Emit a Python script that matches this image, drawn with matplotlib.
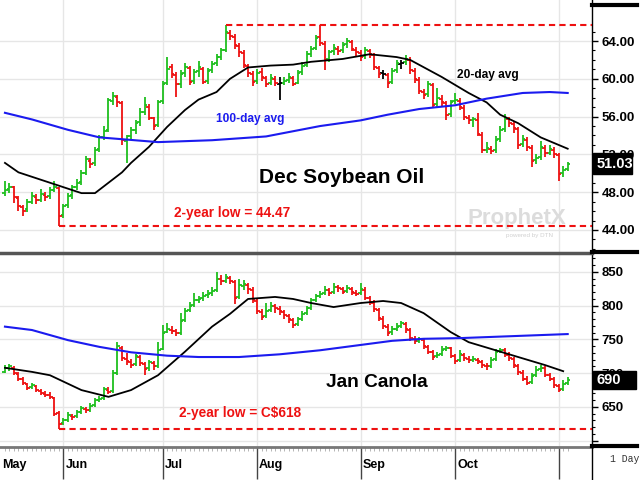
import numpy as np
import matplotlib
matplotlib.use("Agg")
import matplotlib.pyplot as plt
import matplotlib.transforms as mtransforms
from matplotlib.patches import Rectangle
from matplotlib.lines import Line2D

# Dec soybean oil daily bars (cents/lb), mid-May .. early Nov
soy_open = [47.9, 48.3, 48.5, 47.4, 46.4, 46.2, 47.0, 47.5, 47.2, 47.7,
            47.6, 48.2, 48.4, 45.6, 46.6, 47.7, 48.5, 49.1, 50.0, 51.3,
            51.1, 52.6, 53.8, 54.6, 57.7, 58.1, 57.4, 53.4, 53.9, 54.6,
            55.4, 56.5, 57.0, 55.8, 55.1, 57.6, 59.6, 61.2, 60.4, 59.5,
            60.6, 61.1, 59.8, 60.8, 61.0, 59.8, 60.9, 61.7, 62.3, 63.1,
            64.9, 64.4, 63.5, 62.7, 61.4, 60.5, 59.8, 60.7, 60.1, 59.6,
            60.0, 59.5, 59.6, 59.9, 60.1, 59.6, 60.7, 61.5, 62.6, 63.3,
            64.4, 63.7, 62.1, 62.9, 63.2, 63.0, 63.7, 63.9, 63.1, 62.7,
            62.4, 62.9, 62.5, 61.1, 60.6, 60.4, 59.7, 60.9, 61.6, 61.8,
            62.0, 60.8, 59.9, 58.6, 58.4, 59.3, 57.3, 57.9, 57.4, 56.3,
            57.6, 57.7, 56.9, 55.9, 55.6, 55.6, 54.1, 52.5, 52.6, 52.5,
            53.6, 54.7, 55.7, 55.2, 54.7, 53.1, 53.5, 52.7, 51.4, 51.7,
            52.7, 52.2, 52.5, 51.9, 50.0, 50.5]
soy_high = [49.2, 49.0, 48.7, 47.6, 46.6, 47.3, 48.0, 47.8, 48.3, 48.0,
            48.6, 49.2, 48.6, 46.8, 47.9, 48.8, 49.4, 50.4, 51.8, 51.6,
            52.8, 54.1, 55.0, 58.0, 58.6, 58.3, 57.6, 54.1, 54.9, 55.6,
            56.9, 58.1, 57.3, 56.0, 57.8, 59.8, 62.3, 61.6, 60.7, 60.9,
            61.7, 61.4, 61.0, 61.9, 61.3, 61.1, 61.9, 62.6, 63.3, 65.7,
            65.2, 64.7, 63.8, 63.0, 61.6, 60.8, 61.0, 61.1, 60.3, 60.5,
            60.3, 60.2, 60.2, 60.6, 60.3, 60.9, 61.8, 62.9, 63.5, 64.6,
            65.7, 64.0, 63.1, 63.7, 63.5, 63.9, 64.3, 64.1, 63.4, 63.0,
            63.4, 63.2, 62.7, 61.4, 60.9, 60.6, 61.1, 62.0, 62.0, 62.5,
            62.3, 61.1, 60.2, 58.9, 59.8, 59.6, 59.0, 58.3, 57.7, 57.8,
            58.5, 58.0, 57.2, 56.2, 56.0, 56.4, 54.4, 53.3, 52.9, 53.9,
            55.0, 56.3, 56.0, 55.5, 54.9, 54.0, 53.8, 53.0, 52.0, 53.4,
            53.0, 53.0, 52.8, 52.2, 50.8, 51.2]
soy_low = [47.6, 47.9, 46.9, 46.0, 45.5, 45.9, 46.8, 46.7, 47.0, 47.1,
           47.3, 48.0, 44.47, 45.3, 46.3, 47.3, 48.2, 48.8, 49.8, 50.6,
           50.8, 52.3, 53.5, 54.4, 57.2, 57.0, 53.0, 51.1, 53.5, 54.2,
           55.0, 56.2, 55.6, 54.6, 54.9, 57.3, 59.3, 60.1, 58.1, 59.0,
           60.2, 59.3, 59.5, 60.2, 59.4, 59.5, 60.6, 61.4, 62.0, 62.8,
           64.1, 63.2, 62.3, 61.1, 60.2, 59.2, 59.5, 59.8, 59.1, 59.3,
           59.2, 57.8, 59.3, 59.6, 59.2, 59.4, 60.4, 61.2, 62.3, 63.0,
           63.5, 60.9, 61.8, 62.5, 62.5, 62.7, 63.3, 62.9, 62.4, 61.9,
           62.1, 62.2, 60.9, 60.1, 60.0, 59.0, 59.4, 60.6, 61.0, 61.5,
           60.5, 59.6, 58.4, 57.9, 58.1, 56.9, 57.0, 57.1, 55.6, 56.0,
           57.3, 56.7, 55.6, 55.2, 54.9, 53.9, 52.2, 52.1, 52.0, 52.2,
           53.3, 54.4, 54.9, 54.3, 52.6, 52.8, 52.4, 50.7, 51.0, 51.4,
           51.7, 51.9, 51.6, 49.2, 49.6, 50.2]
soy_close = [48.2, 48.6, 47.5, 46.5, 46.0, 47.0, 47.6, 47.2, 47.8, 47.5,
             48.2, 48.6, 45.5, 46.5, 47.6, 48.5, 49.0, 50.0, 51.5, 51.0,
             52.5, 53.8, 54.5, 57.8, 58.2, 57.5, 53.5, 53.9, 54.6, 55.3,
             56.5, 57.2, 55.9, 55.0, 57.5, 59.5, 61.0, 60.5, 59.4, 60.5,
             61.3, 59.7, 60.7, 61.2, 59.7, 60.8, 61.6, 62.3, 63.0, 65.0,
             64.5, 63.6, 62.8, 61.5, 60.6, 59.7, 60.6, 60.2, 59.5, 60.1,
             59.6, 59.6, 59.8, 60.2, 59.5, 60.6, 61.4, 62.6, 63.2, 64.3,
             63.8, 62.0, 62.8, 63.3, 62.9, 63.6, 64.0, 63.2, 62.8, 62.3,
             63.0, 62.6, 61.2, 60.5, 60.5, 59.6, 60.8, 61.7, 61.7, 62.1,
             60.9, 60.0, 58.7, 58.3, 59.5, 57.2, 58.0, 57.5, 56.2, 57.5,
             57.8, 57.0, 56.0, 55.6, 55.7, 54.2, 52.5, 52.7, 52.4, 53.5,
             54.6, 55.8, 55.3, 54.8, 53.0, 53.6, 52.8, 51.3, 51.6, 52.8,
             52.1, 52.6, 52.0, 49.9, 50.4, 51.03]

# moving averages (day index, value)
soy_ma20_day = [0, 3, 10, 17, 20, 23, 26, 28, 32, 36, 40, 43, 47, 50, 54,
                59, 64, 68, 75, 81, 87, 90, 97, 103, 107, 110, 114, 119, 125]
soy_ma20 = [51.1, 50.1, 49.0, 47.9, 47.9, 49.0, 50.1, 51.1, 52.8, 54.9,
            56.7, 57.8, 58.6, 60.0, 61.2, 61.4, 61.5, 61.8, 62.1, 62.6,
            62.3, 62.0, 60.2, 58.5, 57.5, 56.2, 55.3, 53.8, 52.6]
soy_ma100_day = [0, 6, 14, 21, 34, 46, 58, 70, 79, 85, 92, 100, 107, 115, 121, 125]
soy_ma100 = [56.4, 55.7, 54.6, 53.8, 53.3, 53.5, 53.9, 55.0, 55.6, 56.2,
             56.8, 57.2, 57.9, 58.5, 58.6, 58.5]

# Jan canola daily bars (C$/t)
can_open = [702, 707, 708, 699, 691, 684, 679, 681, 674, 669,
            668, 663, 641, 626, 630, 637, 636, 643, 647, 646,
            653, 661, 663, 675, 673, 701, 738, 721, 717, 713,
            724, 714, 707, 715, 711, 736, 761, 764, 762, 760,
            779, 793, 801, 809, 811, 816, 819, 823, 839, 837,
            841, 835, 813, 829, 831, 824, 807, 791, 785, 793,
            799, 795, 791, 785, 779, 773, 781, 789, 797, 809,
            815, 819, 823, 820, 827, 825, 822, 825, 819, 819,
            824, 811, 804, 794, 781, 769, 761, 766, 770, 773,
            764, 751, 748, 749, 739, 731, 725, 728, 736, 737,
            725, 719, 727, 721, 720, 720, 717, 711, 711, 721,
            733, 734, 727, 721, 711, 701, 691, 687, 697, 706,
            707, 697, 691, 681, 676, 685]
can_high = [712, 714, 710, 702, 694, 686, 686, 683, 676, 673,
            672, 665, 644, 634, 642, 640, 646, 652, 650, 656,
            664, 666, 680, 679, 705, 746, 741, 730, 721, 729,
            727, 717, 720, 718, 746, 771, 774, 770, 765, 789,
            796, 805, 819, 815, 820, 823, 828, 850, 845, 847,
            844, 838, 840, 838, 834, 827, 810, 795, 804, 806,
            803, 799, 794, 788, 782, 784, 792, 800, 812, 818,
            822, 829, 826, 833, 831, 828, 830, 828, 823, 833,
            827, 815, 808, 797, 785, 773, 770, 774, 778, 776,
            767, 755, 754, 752, 742, 734, 731, 740, 741, 739,
            729, 734, 730, 725, 726, 723, 720, 715, 724, 736,
            738, 737, 731, 724, 714, 705, 696, 700, 710, 712,
            710, 700, 694, 684, 690, 694]
can_low = [700, 704, 697, 689, 682, 675, 676, 672, 667, 665,
           662, 636, 618, 623, 628, 631, 633, 640, 641, 643,
           650, 657, 660, 669, 671, 698, 718, 712, 708, 710,
           711, 698, 704, 705, 708, 734, 760, 758, 755, 757,
           776, 790, 798, 804, 807, 812, 815, 820, 830, 833,
           832, 802, 810, 824, 818, 804, 788, 779, 782, 790,
           789, 786, 781, 774, 767, 770, 778, 786, 794, 806,
           812, 816, 815, 817, 821, 817, 819, 816, 814, 816,
           808, 801, 791, 778, 766, 755, 757, 763, 767, 760,
           748, 743, 745, 736, 728, 720, 722, 725, 733, 722,
           714, 717, 718, 715, 716, 713, 708, 705, 708, 718,
           730, 724, 718, 707, 698, 688, 683, 684, 694, 702,
           694, 688, 678, 672, 673, 682]
can_close = [708, 710, 700, 692, 685, 678, 682, 675, 670, 668,
             665, 640, 625, 630, 638, 635, 642, 648, 645, 652,
             660, 662, 676, 672, 700, 740, 722, 718, 712, 725,
             715, 706, 716, 710, 735, 760, 765, 763, 759, 778,
             792, 800, 808, 810, 815, 818, 822, 840, 836, 842,
             836, 812, 830, 832, 825, 808, 792, 784, 792, 800,
             796, 792, 786, 780, 772, 780, 788, 796, 808, 814,
             818, 824, 819, 828, 826, 821, 826, 820, 818, 825,
             812, 805, 795, 782, 770, 760, 765, 769, 774, 765,
             752, 747, 750, 740, 732, 724, 727, 735, 738, 726,
             718, 728, 722, 719, 721, 718, 712, 710, 720, 732,
             735, 728, 722, 712, 702, 692, 686, 696, 705, 708,
             698, 692, 682, 675, 684, 690]

can_ma20_day = [0, 6, 10, 17, 23, 28, 34, 40, 46, 50, 54, 60, 64,
                68, 73, 79, 84, 88, 93, 99, 103, 108, 114, 120, 124]
can_ma20 = [708, 702, 697, 675, 665, 675, 697, 732, 769, 788, 810, 813, 810,
            804, 798, 804, 807, 804, 789, 761, 746, 736, 724, 712, 703]
can_ma100_day = [0, 6, 14, 21, 28, 36, 43, 52, 61, 70, 86, 93, 101, 113, 125]
can_ma100 = [769, 764, 749, 739, 731, 726, 724, 724, 728, 734, 748, 751, 752, 755, 758]

# axis labels
month_days = [13, 35, 56, 79, 100, 123]
month_names = ["Jun", "Jul", "Aug", "Sep", "Oct", ""]
soy_ticks = [44, 48, 52, 56, 60, 64]
can_ticks = [600, 650, 700, 750, 800, 850]

UP = "#1fbf1f"
DOWN = "#ee1111"
BLUE = "#1b1bef"

plt.rcParams["font.family"] = ["Liberation Sans", "DejaVu Sans"]
plt.rcParams["font.weight"] = "bold"

XMIN, XMAX = -1.1, 130.4


def draw_bars(ax, o, h, l, c):
    days = np.arange(len(c))
    cols = []
    for i in range(len(c)):
        prev = o[i] if i == 0 else c[i - 1]
        if c[i] > prev:
            cols.append(UP)
        elif c[i] < prev:
            cols.append(DOWN)
        else:
            cols.append("black")
    ax.vlines(days, l, h, colors=cols, lw=1.3, zorder=3)
    ax.hlines(o, days - 0.6, days, colors=cols, lw=1.3, zorder=3)
    ax.hlines(c, days, days + 0.6, colors=cols, lw=1.3, zorder=3)


def style_panel(ax, ylim, ticks, labels, minor):
    ax.set_xlim(XMIN, XMAX)
    ax.set_ylim(*ylim)
    ax.yaxis.tick_right()
    ax.set_yticks(ticks)
    ax.set_yticklabels(labels)
    ax.set_yticks(minor, minor=True)
    ax.tick_params(axis="y", which="major", length=4, width=1, pad=3, labelsize=9.5)
    ax.tick_params(axis="y", which="minor", length=2, width=0.8)
    ax.set_xticks(month_days)
    ax.grid(True, color="#e6e6e6", lw=1)
    ax.set_axisbelow(True)
    for s in ["left", "top", "bottom"]:
        ax.spines[s].set_visible(False)
    ax.spines["right"].set_linewidth(1)


fig = plt.figure(figsize=(6.4, 4.8), dpi=100)
ax1 = fig.add_axes([0, 0.475, 0.925, 0.525])
ax2 = fig.add_axes([0, 0.06875, 0.925, 0.40417])

# ---- soybean oil
draw_bars(ax1, soy_open, soy_high, soy_low, soy_close)
ax1.plot(soy_ma20_day, soy_ma20, color="black", lw=1.3, zorder=4)
ax1.plot(soy_ma100_day, soy_ma100, color=BLUE, lw=1.5, zorder=4)
lo_i = int(np.argmin(soy_low))
hi_i = int(np.argmax(soy_high))
ax1.hlines(min(soy_low), lo_i, XMAX, colors=DOWN, linestyles=(0, (3, 2)), lw=1.5, zorder=4)
ax1.hlines(max(soy_high), hi_i, XMAX, colors=DOWN, linestyles=(0, (3, 2)), lw=1.5, zorder=4)
style_panel(ax1, (41.67, 68.34), soy_ticks, [f"{t:.2f}" for t in soy_ticks],
            np.arange(42, 66, 1))
ax1.tick_params(axis="x", length=0, labelbottom=False)

ax1.text(74.7, 49.6, "Dec Soybean Oil", fontsize=15, ha="center", va="center")
ax1.text(54.5, 55.7, "100-day avg", fontsize=8.6, color=BLUE,
         ha="center", va="center")
ax1.text(107.3, 60.4, "20-day avg", fontsize=8.6, color="black",
         ha="center", va="center")
ax1.text(50.4, 45.8, f"2-year low = {min(soy_low):.2f}", fontsize=9.8, color=DOWN,
         ha="center", va="center")
ax1.text(113.8, 45.2, "ProphetX", fontsize=16, color="#dcdcdc", ha="center",
         va="center", zorder=1)
ax1.text(116.5, 43.4, "powered by DTN", fontsize=4.5, color="#d0d0d0",
         weight="normal", ha="center", va="center", zorder=1)

t1 = mtransforms.blended_transform_factory(ax1.transAxes, ax1.transData)
ax1.add_patch(Rectangle((1.002, soy_close[-1] - 1.08), 0.066, 2.16, transform=t1,
                        color="black", clip_on=False, zorder=5))
ax1.text(1.008, soy_close[-1], f"{soy_close[-1]:.2f}", transform=t1, color="white",
         fontsize=10.5, ha="left", va="center", clip_on=False, zorder=6)

# ---- canola
draw_bars(ax2, can_open, can_high, can_low, can_close)
ax2.plot(can_ma20_day, can_ma20, color="black", lw=1.3, zorder=4)
ax2.plot(can_ma100_day, can_ma100, color=BLUE, lw=1.5, zorder=4)
clo_i = int(np.argmin(can_low))
ax2.hlines(min(can_low), clo_i, XMAX, colors=DOWN, linestyles=(0, (3, 2)), lw=1.5, zorder=4)
style_panel(ax2, (590.7, 878.1), can_ticks,
            ["" if t == 600 else str(t) for t in can_ticks], np.arange(600, 880, 10))
ax2.spines["top"].set_visible(True)
ax2.spines["top"].set_color("#555555")
ax2.spines["top"].set_linewidth(2.5)
ax2.spines["bottom"].set_visible(True)
ax2.spines["bottom"].set_color("#777777")
ax2.spines["bottom"].set_linewidth(2)
ax2.set_xticks(np.arange(len(can_close)), minor=True)
ax2.tick_params(axis="x", which="major", length=23, width=1, color="#444444",
                labelbottom=False)
ax2.tick_params(axis="x", which="minor", length=3, width=0.6, color="#aaaaaa")

ax2.text(82.7, 685.6, "Jan Canola", fontsize=13.8, ha="center", va="center")
ax2.text(52.2, 641, f"2-year low = C${min(can_low)}", fontsize=9.8, color=DOWN,
         ha="center", va="center")

t2 = mtransforms.blended_transform_factory(ax2.transAxes, ax2.transData)
ax2.add_patch(Rectangle((1.002, can_close[-1] - 14), 0.073, 28, transform=t2,
                        color="black", clip_on=False, zorder=5))
ax2.text(1.008, can_close[-1], f"{can_close[-1]}", transform=t2, color="white",
         fontsize=10.5, ha="left", va="center", clip_on=False, zorder=6)

# month labels under the lower panel
tx = mtransforms.blended_transform_factory(ax2.transData, ax2.transAxes)
ax2.text(-0.6, -0.095, "May", transform=tx, fontsize=9, ha="left", va="center")
for d, name in zip(month_days, month_names):
    ax2.text(d + 0.45, -0.095, name, transform=tx, fontsize=9,
             ha="left", va="center")

# frame pieces in the price column
for yy in [0.9896, 0.475, 0.071]:
    fig.add_artist(Line2D([0.925, 0.995], [yy, yy], color="black", lw=3))
fig.add_artist(Line2D([0.925, 0.925], [0.0, 0.07], color="black", lw=1))
fig.text(0.953, 0.038, "1 Day", family="Liberation Mono", weight="normal",
         fontsize=7, color="#333333")

fig.savefig("out.png", dpi=100)
